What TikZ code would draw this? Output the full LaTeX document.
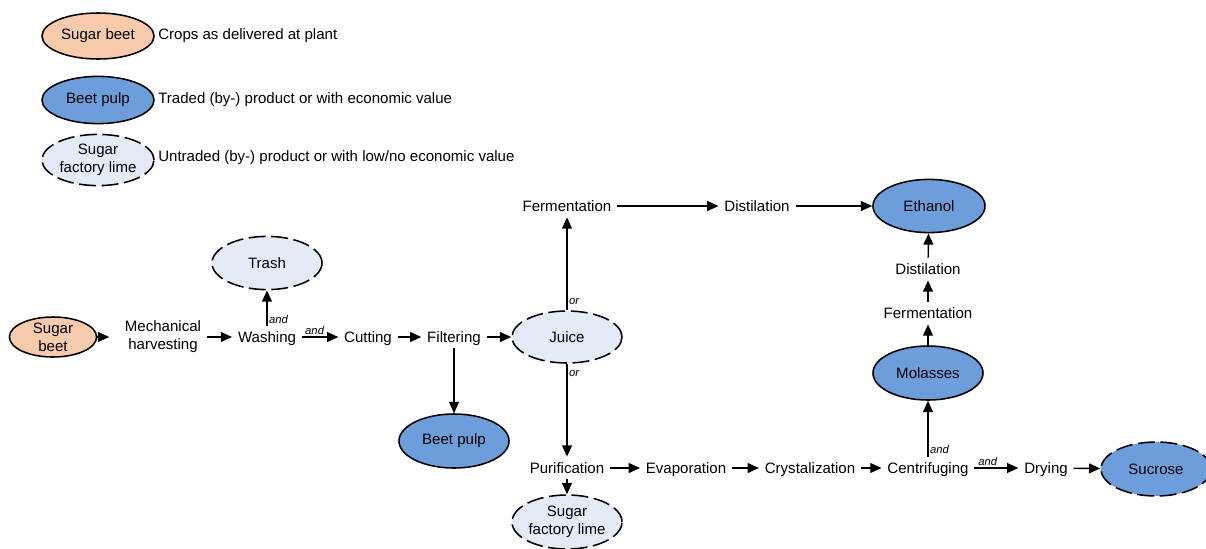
\documentclass[tikz,border=0pt]{standalone}
\usepackage{fontspec}
\setmainfont{Liberation Sans}
\usetikzlibrary{arrows.meta,shapes.geometric}
\definecolor{beetorange}{HTML}{F8CBAD}
\definecolor{pulpblue}{HTML}{6D9EDB}
\definecolor{limegrey}{HTML}{E4EBF6}
\tikzset{
  crop/.style={ellipse, draw, line width=1.1pt, fill=beetorange, inner sep=-5pt, align=center},
  traded/.style={ellipse, draw, line width=1.1pt, fill=pulpblue, inner sep=-5pt, align=center},
  untraded/.style={ellipse, draw, line width=1.1pt, dash pattern=on 12pt off 4pt, fill=limegrey, inner sep=-5pt, align=center},
  bigsize/.style={minimum width=2.75cm, minimum height=1.35cm},
  keysize/.style={minimum width=2.8cm, minimum height=1.18cm},
  process/.style={align=center, inner sep=4pt},
  stage/.style={inner sep=4pt, text height=7.8pt, text depth=0pt},
  keytext/.style={anchor=west, inner sep=0pt},
  flow/.style={-{Triangle[length=8pt,width=7pt]}, line width=1pt},
  tag/.style={font=\fontsize{8}{9}\selectfont\itshape, inner sep=1pt}
}

\begin{document}
\begin{tikzpicture}[x=0.025cm, y=-0.025cm, font=\fontsize{10.7}{12.8}\selectfont]
	\useasboundingbox (0,0) rectangle (1206,548);
	
	%%%%% legend %%%%%
	\node[crop, keysize, minimum height=1.15cm] (keycrop) at (98,36) {Sugar beet};
	\node[keytext] at (158,36) {Crops as delivered at plant};
	\node[traded, keysize] (keytraded) at (98,100) {Beet pulp};
	\node[keytext] at (158,100) {Traded (by-) product or with economic value};
	\node[untraded, keysize, minimum height=1.28cm] (keyuntraded) at (98,160) {Sugar\\factory lime};
	\node[keytext] at (158,158) {Untraded (by-) product or with low/no economic value};
	
	%%%%% main line %%%%%
	\node[crop, minimum width=2.18cm, minimum height=1cm] (beet) at (53,337) {Sugar\\beet};
	\node[process] (harvest) at (163,337) {Mechanical\\harvesting};
	\node[stage] (wash) at (267,337) {Washing};
	\node[stage] (cut) at (368,337) {Cutting};
	\node[stage] (filter) at (454,337) {Filtering};
	\node[untraded, bigsize, minimum height=1.3cm] (juice) at (567,337) {Juice};
	\node[untraded, bigsize, minimum height=1.33cm] (trash) at (267,263) {Trash};
	\node[traded, bigsize] (pulp) at (454,441) {Beet pulp};
	
	%%%%% ethanol from juice %%%%%
	\node[stage] (fermA) at (567,206) {Fermentation};
	\node[stage] (distA) at (757,206) {Distilation};
	\node[traded, bigsize, minimum width=2.8cm, minimum height=1.33cm] (ethanol) at (929,206) {Ethanol};
	
	%%%%% sugar line %%%%%
	\node[stage] (purif) at (567,468) {Purification};
	\node[stage] (evap) at (686,468) {Evaporation};
	\node[stage] (cryst) at (810,468) {Crystalization};
	\node[stage] (centr) at (928,468) {Centrifuging};
	\node[stage] (dry) at (1046,468) {Drying};
	\node[untraded, bigsize, fill=pulpblue] (sucrose) at (1156,469) {Sucrose};
	\node[untraded, bigsize] (lime) at (567,522) {Sugar\\factory lime};
	
	%%%%% ethanol from molasses %%%%%
	\node[traded, bigsize] (molasses) at (928,373) {Molasses};
	\node[stage] (fermB) at (928,313) {Fermentation};
	\node[stage] (distB) at (928,269) {Distilation};
	
	%%%%% connectors %%%%%
	\draw[flow, shorten >=7pt] (beet) -- (harvest);
	\draw[flow] (harvest) -- (wash);
	\draw[flow] (wash) -- node[tag, above, pos=0.35] {and} (cut);
	\draw[flow] (wash) -- node[tag, anchor=west, pos=0.17] {and} (trash);
	\draw[flow] (cut) -- (filter);
	\draw[flow] (filter) -- (juice);
	\draw[flow] (filter) -- (pulp);
	\draw[flow] (juice) -- node[tag, anchor=west, pos=0.09] {or} (fermA);
	\draw[flow] (juice) -- node[tag, anchor=west, pos=0.1] {or} (purif);
	\draw[flow] (fermA) -- (distA);
	\draw[flow] (distA) -- (ethanol);
	\draw[flow] (purif) -- (evap);
	\draw[flow] (evap) -- (cryst);
	\draw[flow] (cryst) -- (centr);
	\draw[flow] (centr) -- node[tag, above, pos=0.3] {and} (dry);
	\draw[flow] (dry) -- (sucrose);
	\draw[flow] (purif) -- (lime);
	\draw[flow] (centr) -- node[tag, anchor=west, pos=0.12] {and} (molasses);
	\draw[flow] (molasses) -- (fermB);
	\draw[flow] (fermB) -- (distB);
	\draw[flow] (distB) -- (ethanol);
	
\end{tikzpicture}
\end{document}
